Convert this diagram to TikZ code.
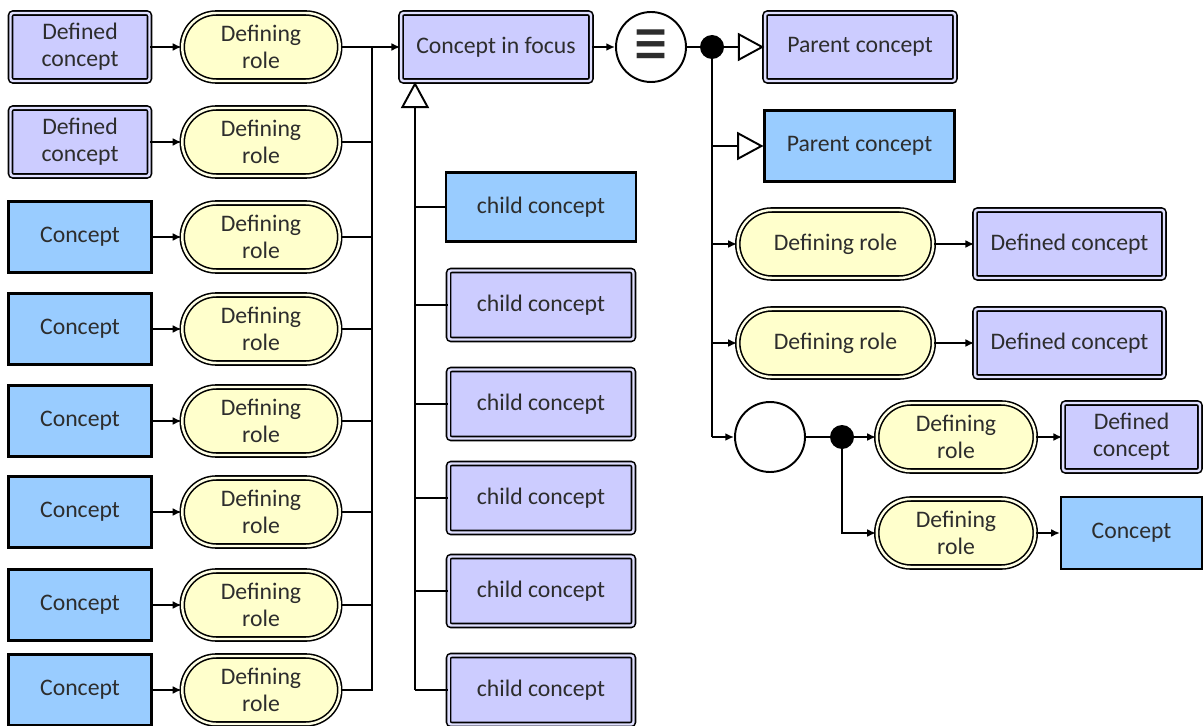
\documentclass[tikz,border=0pt]{standalone}
\usepackage{fontspec}
\setmainfont{Carlito}
\newfontfamily\symfont{DejaVu Sans}
\usetikzlibrary{arrows.meta,shapes.misc}

\definecolor{definedfill}{RGB}{204,204,255}
\definecolor{conceptfill}{RGB}{153,204,255}
\definecolor{rolefill}{RGB}{255,255,204}
\definecolor{textgray}{RGB}{45,45,45}

\tikzset{
  every node/.style={font=\fontsize{13.5}{15.5}\selectfont, align=center, text=textgray},
  definedbox/.style={rectangle, rounded corners=1.5pt, draw=black, line width=0.9pt,
    double=definedfill!60!white, double distance=1.4pt, fill=definedfill,
    minimum height=1.36cm, inner sep=1pt},
  conceptbox/.style={rectangle, draw=black, line width=1.2pt, fill=conceptfill,
    minimum height=1.42cm, inner sep=1pt},
  rolebox/.style={rounded rectangle, draw=black, line width=0.9pt,
    double=rolefill!50!white, double distance=1.4pt, fill=rolefill,
    minimum height=1.36cm, inner sep=1pt},
  circnode/.style={circle, draw=black, line width=1.1pt, fill=white, minimum size=1.4cm, inner sep=0pt},
  dotnode/.style={circle, fill=black, minimum size=0.48cm, inner sep=0pt},
  link/.style={line width=1.1pt},
  arr/.style={link, -{Latex[length=5pt,width=4.5pt]}},
  isa/.style={link, -{Triangle[open, length=15pt, width=16pt, line width=1.1pt]}}
}

\begin{document}
\begin{tikzpicture}[x=0.02cm,y=-0.02cm]
  \useasboundingbox (0,0) rectangle (1203,726);

  % concept in focus and the role bus
  \node[definedbox, minimum width=3.8cm] (focus) at (496,47) {Concept in focus};
  \coordinate (bus) at (372,47);

  % left column: concepts and their defining roles
  \foreach \y [count=\i] in {47,142,237,329,421,512,605,690} {
    \ifnum\i<3
      \node[definedbox, minimum width=2.78cm] (L\i) at (80,\y) {Defined\\concept};
    \else
      \node[conceptbox, minimum width=2.86cm] (L\i) at (80,\y) {Concept};
    \fi
    \node[rolebox, minimum width=3.22cm] (R\i) at (261,\y) {Defining\\role};
    \draw[arr] (L\i) -- (R\i);
    \draw[link] (R\i.east) -| (bus);
  }
  \draw[arr] (bus) -- (focus);

  % child concepts
  \coordinate (childbus) at (415,690);
  \node[conceptbox, minimum width=3.8cm, minimum height=1.38cm] (C1) at (541,207) {child concept};
  \foreach \y [count=\j from 2] in {305,404,498,591,690}
    \node[definedbox, minimum width=3.7cm, minimum height=1.38cm] (C\j) at (541,\y) {child concept};
  \draw[isa] (childbus) -- (childbus |- focus.south);
  \foreach \j in {1,...,6}
    \draw[link] (C\j.west) -- (C\j.west -| childbus);

  % right side
  \node[circnode] (eq) at (651,47) {\symfont\fontsize{21}{21}\selectfont\scalebox{1.2}[1.75]{\char"2261}};
  \node[dotnode] (dot1) at (712,47) {};
  \coordinate (rbus) at (712,437);
  \node[definedbox, minimum width=3.8cm] (P1) at (860,47) {Parent concept};
  \node[conceptbox, minimum width=3.8cm, minimum height=1.42cm] (P2) at (859.5,146) {Parent concept};
  \node[rolebox, minimum width=3.98cm] (RR1) at (835.5,244) {Defining role};
  \node[rolebox, minimum width=3.98cm] (RR2) at (835.5,343) {Defining role};
  \node[definedbox, minimum width=3.78cm] (D1) at (1069.5,244) {Defined concept};
  \node[definedbox, minimum width=3.78cm] (D2) at (1069.5,343) {Defined concept};
  \node[circnode] (anon) at (770,437) {};
  \node[dotnode] (dot2) at (842,437) {};
  \node[rolebox, minimum width=3.24cm] (RA) at (956,437) {Defining\\role};
  \node[rolebox, minimum width=3.24cm] (RB) at (956,533) {Defining\\role};
  \node[definedbox, minimum width=2.74cm] (DA) at (1131.5,437) {Defined\\concept};
  \node[conceptbox, minimum width=2.82cm, minimum height=1.44cm] (CB) at (1131.5,533) {Concept};

  \draw[arr] (focus) -- (eq);
  \draw[link] (eq) -- (dot1);
  \draw[isa] (dot1) -- (P1);
  \draw[link] (dot1) -- (rbus);
  \draw[isa] (rbus |- P2) -- (P2);
  \draw[arr] (rbus |- RR1) -- (RR1);
  \draw[arr] (rbus |- RR2) -- (RR2);
  \draw[arr] (rbus) -- (anon);
  \draw[arr] (RR1) -- (D1);
  \draw[arr] (RR2) -- (D2);
  \draw[link] (anon) -- (dot2);
  \draw[arr] (dot2) -- (RA);
  \draw[arr] (dot2) |- (RB);
  \draw[arr] (RA) -- (DA);
  \draw[arr] (RB) -- (CB);
\end{tikzpicture}
\end{document}
